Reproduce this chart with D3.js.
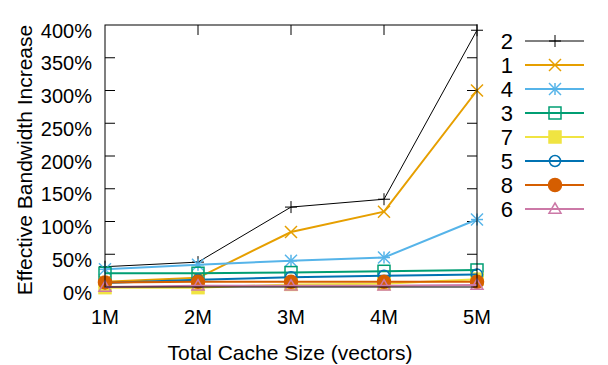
<!DOCTYPE html>
<html>
<head>
<meta charset="utf-8">
<script src="https://cdn.jsdelivr.net/npm/d3@7"></script>
<style>
  body { margin: 0; background: #fff; }
  svg { font-family: "Liberation Sans", Arial, sans-serif; }
</style>
</head>
<body>
<svg id="chart" width="608" height="365"></svg>
<script>
// cache sizes on the x axis
const sizes = ["1M", "2M", "3M", "4M", "5M"];
const yTicks = [0, 50, 100, 150, 200, 250, 300, 350, 400];

// series, in legend order (values in %)
const seriesNames = ["2", "1", "4", "3", "7", "5", "8", "6"];
const s2 = [31, 38, 122, 134, 392];
const s1 = [8, 14, 84, 115, 300];
const s4 = [27, 34, 40, 45, 103];
const s3 = [21, 21, 22, 24, 26];
const s7 = [-1, -1, 4, 5, 12];
const s5 = [6, 11, 15, 17, 19];
const s8 = [7, 8, 8, 8, 8];
const s6 = [0, 2, 2, 2, 3];
const seriesValues = [s2, s1, s4, s3, s7, s5, s8, s6];
const colors = ["#000000", "#E69F00", "#56B4E9", "#009E73", "#F0E442", "#0072B2", "#D55E00", "#CC79A7"];
const markers = ["plus", "cross", "star", "square", "squareFill", "circle", "circleFill", "triangle"];

const svg = d3.select("#chart");
const plotL = 105, plotR = 477, plotT = 25, plotB = 287;

const x = d3.scalePoint().domain(sizes).range([plotL, plotR]);
const y = d3.scaleLinear().domain([0, 400]).range([plotB, plotT]);

// axes, ticks pointing inward and mirrored
const tickLen = 10;
const g = svg.append("g").attr("stroke", "#000").attr("stroke-width", 1);
yTicks.slice(1, -1).forEach(t => {
    g.append("line").attr("x1", plotL).attr("x2", plotL + tickLen).attr("y1", y(t)).attr("y2", y(t));
    g.append("line").attr("x1", plotR).attr("x2", plotR - tickLen).attr("y1", y(t)).attr("y2", y(t));
});
sizes.slice(1, -1).forEach(s => {
    g.append("line").attr("x1", x(s)).attr("x2", x(s)).attr("y1", plotB).attr("y2", plotB - tickLen);
    g.append("line").attr("x1", x(s)).attr("x2", x(s)).attr("y1", plotT).attr("y2", plotT + tickLen);
});

svg.append("g").selectAll("text")
    .data(yTicks)
    .join("text")
    .attr("x", 92)
    .attr("y", d => y(d) + 12.5)
    .attr("text-anchor", "end")
    .attr("font-size", 20)
    .text(d => d + "%");

svg.append("g").selectAll("text")
    .data(sizes)
    .join("text")
    .attr("x", d => x(d))
    .attr("y", 324)
    .attr("text-anchor", "middle")
    .attr("font-size", 20)
    .text(d => d);

svg.append("text")
    .attr("x", 290)
    .attr("y", 360)
    .attr("text-anchor", "middle")
    .attr("font-size", 21)
    .text("Total Cache Size (vectors)");

svg.append("text")
    .attr("transform", `translate(32,160) rotate(-90)`)
    .attr("text-anchor", "middle")
    .attr("font-size", 21)
    .text("Effective Bandwidth Increase");

function drawMarker(sel, type, color, cx, cy) {
    const m = sel.append("g").attr("transform", `translate(${cx},${cy})`)
        .attr("stroke", color).attr("fill", "none").attr("stroke-width", type === "plus" ? 1 : 1.5);
    const r = 6;
    if (type === "plus" || type === "star") {
        m.append("line").attr("x1", -r).attr("x2", r).attr("y1", 0).attr("y2", 0);
        m.append("line").attr("x1", 0).attr("x2", 0).attr("y1", -r).attr("y2", r);
    }
    if (type === "cross" || type === "star") {
        m.append("line").attr("x1", -r).attr("x2", r).attr("y1", -r).attr("y2", r);
        m.append("line").attr("x1", -r).attr("x2", r).attr("y1", r).attr("y2", -r);
    }
    if (type === "square") m.append("rect").attr("x", -r).attr("y", -r).attr("width", 2 * r).attr("height", 2 * r);
    if (type === "squareFill") m.append("rect").attr("x", -r).attr("y", -r).attr("width", 2 * r).attr("height", 2 * r).attr("fill", color);
    if (type === "circle") m.append("circle").attr("r", r - 0.5);
    if (type === "circleFill") m.append("circle").attr("r", r + 0.5).attr("fill", color);
    if (type === "triangle") m.append("path").attr("d", `M0,${-r}L${r},${r * 0.7}L${-r},${r * 0.7}Z`);
}

const line = d3.line().x((d, i) => x(sizes[i])).y(d => y(d));
const plot = svg.append("g");
seriesValues.forEach((vals, k) => {
    plot.append("path")
        .datum(vals)
        .attr("d", line)
        .attr("fill", "none")
        .attr("stroke", colors[k])
        .attr("stroke-width", k === 0 ? 1 : 2);
    vals.forEach((v, i) => drawMarker(plot, markers[k], colors[k], x(sizes[i]), y(v)));
});

// border box
svg.append("rect")
    .attr("x", plotL).attr("y", plotT)
    .attr("width", plotR - plotL).attr("height", plotB - plotT)
    .attr("fill", "none").attr("stroke", "#000");

// legend
const legend = svg.append("g");
seriesNames.forEach((name, k) => {
    const ly = 41 + k * 24;
    legend.append("text")
        .attr("x", 513).attr("y", ly + 8)
        .attr("text-anchor", "end")
        .attr("font-size", 22)
        .text(name);
    legend.append("line")
        .attr("x1", 525).attr("x2", 584).attr("y1", ly).attr("y2", ly)
        .attr("stroke", colors[k]).attr("stroke-width", k === 0 ? 1 : 2);
    drawMarker(legend, markers[k], colors[k], 555, ly);
});
</script>
</body>
</html>
